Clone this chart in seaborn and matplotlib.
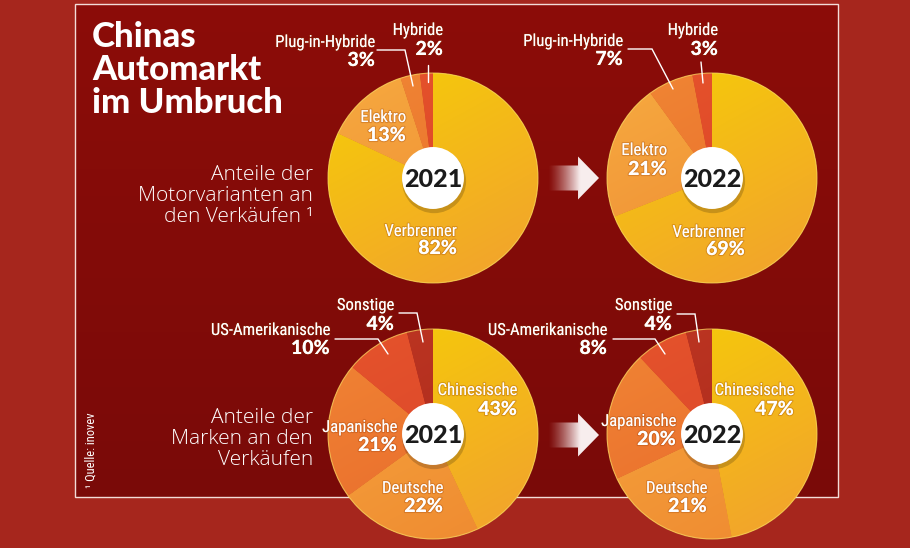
import os
import numpy as np
import matplotlib
matplotlib.use("Agg")
import matplotlib.pyplot as plt
import seaborn as sns
from matplotlib.patches import Circle, Rectangle, Polygon
import matplotlib.patheffects as pe
from matplotlib.colors import to_rgb
from matplotlib import font_manager as fm

sns.set_theme(style="white")
plt.rcParams['font.family'] = ['Lato', 'DejaVu Sans']

W, H = 910, 548

# ---------------- data ----------------
years = ["2021", "2022"]
motor_labels = ["Verbrenner", "Elektro", "Plug-in-Hybride", "Hybride"]
motor_2021 = [82, 13, 3, 2]
motor_2022 = [69, 21, 7, 3]
brand_labels = ["Chinesische", "Deutsche", "Japanische", "US-Amerikanische", "Sonstige"]
brand_2021 = [43, 22, 21, 10, 4]
brand_2022 = [47, 21, 20, 8, 4]

title_lines = ["Chinas", "Automarkt", "im Umbruch"]
sub_motor = ["Anteile der", "Motorvarianten an", "den Verkäufen ¹"]
sub_brand = ["Anteile der", "Marken an den", "Verkäufen"]
source = "¹ Quelle: inovev"

# colours (top-left shade, bottom-right shade)
motor_colors = [("#f5cc08", "#f2a22e"), ("#f6a93f", "#ee8833"),
                ("#f08634", "#e8692b"), ("#e6542c", "#d83e26")]
brand_colors = [("#f5cc08", "#f2a22e"), ("#f6a63d", "#ef8a31"),
                ("#f08434", "#e8672b"), ("#e5532c", "#d8432a"),
                ("#bd3522", "#a8291b")]

OUTER_BG = "#a6261d"


# ---------------- fonts ----------------
def pick_font(patterns):
    files = [f.fname for f in fm.fontManager.ttflist]
    for pat in patterns:
        for fn in files:
            if os.path.basename(fn).lower() == pat.lower():
                return fm.FontProperties(fname=fn)
    for pat in patterns:
        for fn in files:
            if pat.lower().split('.')[0] in os.path.basename(fn).lower():
                return fm.FontProperties(fname=fn)
    return None


narrow = pick_font(["RobotoCondensed-Regular.ttf", "Roboto_Condensed-Regular.ttf",
                    "LiberationSansNarrow-Regular.ttf", "OpenSans_Condensed-Regular.ttf",
                    "DejaVuSansCondensed.ttf"])
if narrow is None:
    narrow = fm.FontProperties(family=['DejaVu Sans'], stretch='condensed')
light = pick_font(["OpenSans-Light.ttf", "Lato-Light.ttf", "Lato-Regular.ttf"])
if light is None:
    light = fm.FontProperties(family=['Lato', 'DejaVu Sans'])

fig = plt.figure(figsize=(W / 100, H / 100), dpi=100, facecolor=OUTER_BG)

# ---------------- background ----------------
ax_bg = fig.add_axes([0, 0, 1, 1])
ax_bg.axis('off')

panel_x0, panel_x1, panel_y0, panel_y1 = 75, 838, 4, 497
grad = np.linspace(0, 1, 200)[:, None, None]
ctop, cbot = np.array(to_rgb("#8c0d09")), np.array(to_rgb("#7a0a08"))
panel_img = np.repeat(ctop * (1 - grad) + cbot * grad, 2, axis=1)
ax_bg.imshow(panel_img, extent=(panel_x0, panel_x1, panel_y1, panel_y0),
             aspect='auto', zorder=1, interpolation='bilinear')
ax_bg.add_patch(Rectangle((panel_x0, panel_y0), panel_x1 - panel_x0, panel_y1 - panel_y0,
                          fill=False, ec='#f3dcd8', lw=1.0, zorder=2))


def draw_arrow(cy):
    xs = [548, 578, 578, 599, 578, 578, 548]
    ys = [cy - 12.5, cy - 12.5, cy - 21.5, cy, cy + 21.5, cy + 12.5, cy + 12.5]
    poly = Polygon(np.column_stack([xs, ys]), closed=True, fc='none', ec='none')
    ax_bg.add_patch(poly)
    t = np.linspace(0, 1, 200)
    alpha = np.clip(t * 1.6, 0, 1) ** 1.3
    img = np.ones((2, 200, 4))
    img[..., 0] = 0.97
    img[..., 1] = 0.93
    img[..., 2] = 0.93
    img[..., 3] = alpha
    im = ax_bg.imshow(img, extent=(548, 599, cy + 22, cy - 22), aspect='auto',
                      zorder=3, interpolation='bilinear')
    im.set_clip_path(poly)


draw_arrow(178)
draw_arrow(435)
ax_bg.set_xlim(0, W)
ax_bg.set_ylim(H, 0)
ax_bg.set_aspect('auto')


# ---------------- pies ----------------
def draw_pie(cx, cy, r, values, colors, year):
    pad = 3
    ax = fig.add_axes([(cx - r - pad) / W, (H - cy - r - pad) / H,
                       (2 * r + 2 * pad) / W, (2 * r + 2 * pad) / H])
    ax.axis('off')
    wedges, _ = ax.pie(values, startangle=90, counterclock=False, radius=1,
                       colors=[c[0] for c in colors],
                       wedgeprops=dict(linewidth=0))
    n = 200
    xx, yy = np.meshgrid(np.linspace(0, 1, n), np.linspace(0, 1, n))
    t = np.clip((0.35 * xx + 0.65 * yy) * 1.1 - 0.05, 0, 1)[..., None]
    for w, (c1, c2) in zip(wedges, colors):
        img = np.array(to_rgb(c1)) * (1 - t) + np.array(to_rgb(c2)) * t
        im = ax.imshow(img, extent=(-1, 1, -1, 1), origin='upper',
                       zorder=2, interpolation='bilinear')
        im.set_clip_path(w)
    ax.add_patch(Circle((0, 0), 1.0, fill=False, ec='#f8d860', lw=0.8,
                        alpha=0.7, zorder=3))
    ax.add_patch(Circle((0.01, -0.03), 0.305, fc='black', alpha=0.18,
                        ec='none', zorder=4))
    ax.add_patch(Circle((0, 0), 0.295, fc='white', ec='none', zorder=5))
    ax.text(0, -0.01, year, ha='center', va='center', fontsize=18,
            fontweight='black', color='#1b1b1b', zorder=6)
    lim = 1 + pad / r
    ax.set_xlim(-lim, lim)
    ax.set_ylim(-lim, lim)
    ax.set_aspect('equal')
    return ax


R = 105
draw_pie(433, 178, R, motor_2021, motor_colors, years[0])
draw_pie(712, 178, R, motor_2022, motor_colors, years[1])
draw_pie(433, 434, R, brand_2021, brand_colors, years[0])
draw_pie(712, 434, R, brand_2022, brand_colors, years[1])

# ---------------- overlay: text & leaders ----------------
ax = fig.add_axes([0, 0, 1, 1], facecolor='none')
ax.set_xlim(0, W)
ax.set_ylim(H, 0)
ax.axis('off')

shadow = [pe.withStroke(linewidth=1.6, foreground=(0.55, 0.2, 0.0, 0.25))]


def name(x, y, s, ha='right'):
    ax.text(x, y, s, ha=ha, va='baseline', fontproperties=narrow, fontsize=12,
            color='white', path_effects=shadow)


def pct(x, y, v, ha='right'):
    ax.text(x, y, f"{v}%", ha=ha, va='baseline', fontsize=14,
            fontweight='black', color='white', path_effects=shadow)


def leader(pts):
    p = np.array(pts)
    ax.plot(p[:, 0], p[:, 1], color='white', lw=1.0, solid_joinstyle='miter')


# top-left (motor 2021)
name(375, 47, motor_labels[2]); pct(375, 66, motor_2021[2])
name(443, 35, motor_labels[3]); pct(443, 55, motor_2021[3])
name(406, 122, motor_labels[1]); pct(406, 141, motor_2021[1])
name(457, 236, motor_labels[0]); pct(457, 254, motor_2021[0])
leader([(377, 50), (405, 50), (413, 86)])
leader([(428, 65), (428, 82)])

# top-right (motor 2022)
name(623, 46, motor_labels[2]); pct(623, 65, motor_2022[2])
name(718, 35, motor_labels[3]); pct(718, 55, motor_2022[3])
name(667, 155, motor_labels[1]); pct(667, 175, motor_2022[1])
name(745, 237, motor_labels[0]); pct(745, 255, motor_2022[0])
leader([(628, 49), (652, 49), (673, 89)])
leader([(701, 62), (703, 83)])

# bottom-left (brands 2021)
name(394, 310, brand_labels[4]); pct(394, 330, brand_2021[4])
name(330, 335, brand_labels[3]); pct(330, 354, brand_2021[3])
name(397, 432, brand_labels[2]); pct(397, 451, brand_2021[2])
name(443, 493, brand_labels[1]); pct(443, 512, brand_2021[1])
name(517, 395, brand_labels[0]); pct(517, 415, brand_2021[0])
leader([(399, 313), (417, 313), (423, 342)])
leader([(335, 339), (378, 339), (388, 354)])

# bottom-right (brands 2022)
name(672, 310, brand_labels[4]); pct(672, 330, brand_2022[4])
name(607, 335, brand_labels[3]); pct(607, 354, brand_2022[3])
name(676, 426, brand_labels[2]); pct(676, 445, brand_2022[2])
name(707, 493, brand_labels[1]); pct(707, 512, brand_2022[1])
name(794, 395, brand_labels[0]); pct(794, 415, brand_2022[0])
leader([(677, 314), (695, 314), (699, 342)])
leader([(613, 339), (655, 339), (665, 354)])

# title
for yb, line in zip([47, 80, 113], title_lines):
    ax.text(92, yb, line, ha='left', va='baseline', fontsize=25,
            fontweight='black', color='white')

# subtitles
for yb, line in zip([180, 201, 222], sub_motor):
    ax.text(313, yb, line, ha='right', va='baseline', fontproperties=light,
            fontsize=15, color='white')

for yb, line in zip([423, 444, 465], sub_brand):
    ax.text(313, yb, line, ha='right', va='baseline', fontproperties=light,
            fontsize=15, color='white')

# source
ax.text(91, 488, source, rotation=90, rotation_mode='anchor', ha='left',
        va='center', fontproperties=narrow, fontsize=9, color='white')

fig.savefig("out.png", dpi=100, facecolor=OUTER_BG)
